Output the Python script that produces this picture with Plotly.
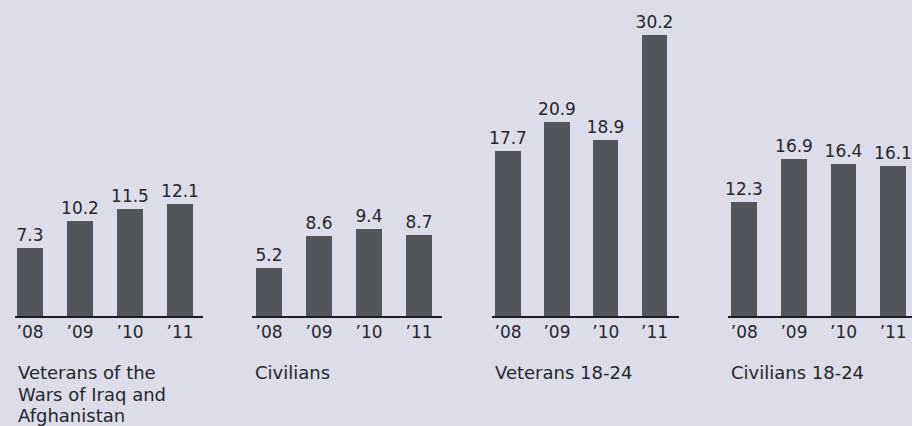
import plotly.graph_objects as go

years = ["’08", "’09", "’10", "’11"]
veterans = [7.3, 10.2, 11.5, 12.1]
civilians = [5.2, 8.6, 9.4, 8.7]
veterans_18_24 = [17.7, 20.9, 18.9, 30.2]
civilians_18_24 = [12.3, 16.9, 16.4, 16.1]

groups = [
    (["Veterans of the", "Wars of Iraq and", "Afghanistan"], veterans),
    (["Civilians"], civilians),
    (["Veterans 18-24"], veterans_18_24),
    (["Civilians 18-24"], civilians_18_24),
]

W, H = 912, 426
PLOT_H = 316
font = "DejaVu Sans"
ink = "#26262b"
bar_color = "#52555c"
bg = "#dcdcea"

# pixel spans of each small axis and its x range
spans = [(15, 203), (252, 442), (492, 679), (728, 912)]
ranges = [[-0.3, 3.46], [-0.34, 3.46], [-0.33, 3.5], [-0.33, 3.38]]

fig = go.Figure()
for i, (lines, vals) in enumerate(groups):
    xa = "x" if i == 0 else "x%d" % (i + 1)
    fig.add_trace(go.Bar(
        x=years, y=vals, xaxis=xa, yaxis="y",
        marker=dict(color=bar_color, line=dict(width=0)),
        width=0.52,
        text=["%.1f" % v for v in vals],
        textposition="outside",
        constraintext="none",
        textfont=dict(size=17, color=ink, family=font),
        cliponaxis=False,
        hoverinfo="skip",
    ))
    key = "xaxis" if i == 0 else "xaxis%d" % (i + 1)
    fig.layout[key] = dict(
        domain=[spans[i][0] / W, spans[i][1] / W],
        range=ranges[i],
        anchor="y",
        type="category",
        showline=True, linecolor="#1e1e22", linewidth=2,
        showgrid=False, zeroline=False, ticks="",
        tickfont=dict(size=17, color=ink, family=font),
        fixedrange=True,
    )
    # caption lines below each small chart
    for j, line in enumerate(lines):
        fig.add_annotation(
            text=line, xref="paper", yref="paper",
            x=(spans[i][0] + 1) / W, y=-(44 + 21.5 * j) / PLOT_H,
            xanchor="left", yanchor="top", align="left",
            showarrow=False,
            font=dict(size=18, color=ink, family=font),
        )

fig.update_layout(
    width=W, height=H,
    margin=dict(l=0, r=0, t=0, b=H - PLOT_H),
    paper_bgcolor=bg, plot_bgcolor=bg,
    showlegend=False,
    bargap=0,
    yaxis=dict(range=[0, 34], visible=False, fixedrange=True),
)

fig.write_html(
    "out.html",
    config={"displayModeBar": False},
    post_script="document.body.style.margin='0';document.body.style.background='%s';" % bg,
)
